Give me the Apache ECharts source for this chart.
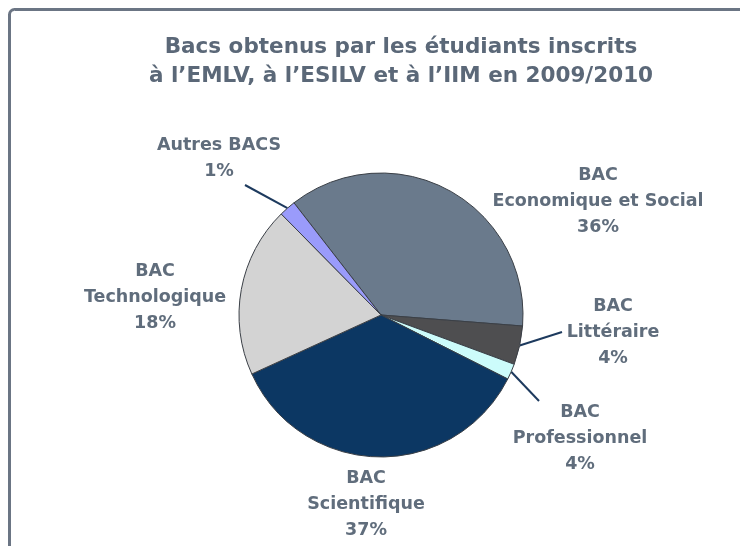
<!DOCTYPE html>
<html lang="fr">
<head>
    <meta charset="UTF-8">
    <title>Bacs obtenus 2009/2010</title>
    <script src="https://cdn.jsdelivr.net/npm/echarts@6/dist/echarts.min.js"></script>
    <style>
        html, body, #chart {
            width: 740px;
            height: 546px;
            padding: 0;
            margin: 0;
            background: #fff;
        }
    </style>
</head>
<body>
<div id="chart"></div>
<script>
    // slice names (multi-line as printed), printed percentages
    var names = ["BAC\nEconomique et Social", "BAC\nLittéraire", "BAC\nProfessionnel",
                 "BAC\nScientifique", "BAC\nTechnologique", "Autres BACS"];
    var values = [36.7, 4.4, 1.8, 35.7, 19.4, 1.9];
    var shown = ["36%", "4%", "4%", "37%", "18%", "1%"];
    var colors = ["#6a7a8c", "#4e4e50", "#ccfcfb", "#0c3763", "#d3d3d3", "#9a9bfb"];

    // where each label sits (centre of the text block) and where its leader line stops
    var labelPos = [[598, 201], [613, 332], [580, 438], [366, 504], [155, 297], [219, 158]];
    var lineEnd = [null, [562, 332], [539, 401], null, null, [245, 185]];

    var myChart = echarts.init(document.getElementById("chart"));
    var font = "DejaVu Sans, Verdana, sans-serif";

    myChart.setOption({
        animation: false,
        title: {
            text: "Bacs obtenus par les étudiants inscrits\nà l’EMLV, à l’ESILV et à l’IIM en 2009/2010",
            left: 396,
            top: 28,
            textAlign: "center",
            textStyle: {
                fontFamily: font,
                fontSize: 21.5,
                fontWeight: "bold",
                color: "#5b6878",
                lineHeight: 29
            }
        },
        graphic: [{
            type: "rect",
            shape: {x: 9.5, y: 9.5, width: 760, height: 560, r: 5},
            style: {fill: null, stroke: "#6b7584", lineWidth: 3},
            silent: true
        }],
        series: [{
            type: "pie",
            center: [381, 315],
            radius: 142,
            startAngle: 127.8,
            clockwise: true,
            avoidLabelOverlap: false,
            itemStyle: {
                borderColor: "#3a3f46",
                borderWidth: 1
            },
            label: {
                show: true,
                position: "outside",
                fontFamily: font,
                fontSize: 17.5,
                fontWeight: "bold",
                color: "#606d7c",
                lineHeight: 26,
                align: "center",
                formatter: function (p) {
                    return p.name + "\n" + shown[p.dataIndex];
                }
            },
            labelLine: {
                show: true,
                lineStyle: {color: "#1d3a5e", width: 2}
            },
            labelLayout: function (p) {
                var i = p.dataIndex;
                var out = {
                    x: labelPos[i][0],
                    y: labelPos[i][1],
                    align: "center",
                    verticalAlign: "middle"
                };
                if (lineEnd[i] && p.labelLinePoints) {
                    var s = p.labelLinePoints[0];
                    out.labelLinePoints = [s, lineEnd[i], lineEnd[i]];
                }
                return out;
            },
            data: names.map(function (n, i) {
                return {
                    name: n,
                    value: values[i],
                    itemStyle: {color: colors[i]},
                    labelLine: {show: !!lineEnd[i]}
                };
            })
        }]
    });
</script>
</body>
</html>
